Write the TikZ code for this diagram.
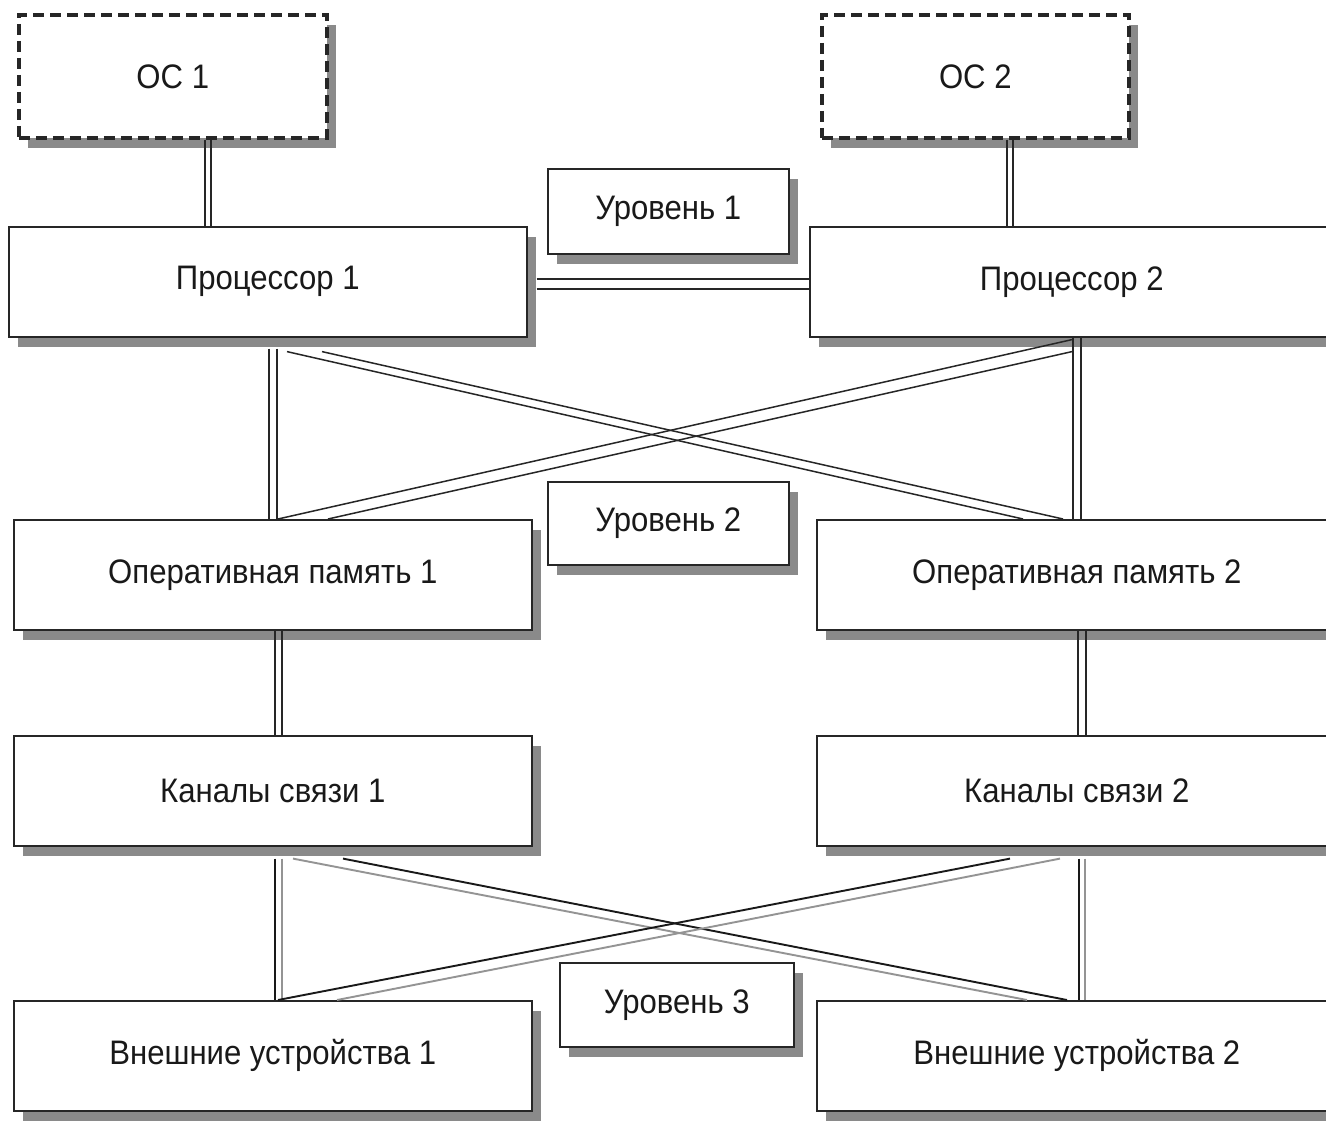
\documentclass[tikz,border=0pt]{standalone}
\usepackage{fontspec}
\setmainfont[FakeStretch=0.915]{Liberation Sans}
\usetikzlibrary{shadows,calc}

% two parallel strokes, shifted sideways by +-#3
\newcommand\wirepair[5]{%
  \draw[#1, transform canvas={xshift=-#3}] (#4) -- (#5);
  \draw[#2, transform canvas={xshift=#3}] (#4) -- (#5);}

\begin{document}
\begin{tikzpicture}[x=1pt,y=-1pt,
  shadowed/.style={drop shadow={shadow xshift=9pt,shadow yshift=-10pt,fill=black!46,opacity=1}},
  box/.style={shadowed,draw=black!85,line width=1.6pt,fill=white,anchor=north west,
    inner sep=0pt,text=black!90,font=\fontsize{34}{38}\selectfont},
  osbox/.style={box,line width=3.6pt,dash pattern=on 11pt off 6pt},
  wdark/.style={draw=black!85,line width=1.5pt},
  wblack/.style={draw=black!90,line width=1.9pt},
  wgray/.style={draw=black!42,line width=1.9pt}]

\useasboundingbox (0,0) rectangle (1326,1120);
\clip (0,0) rectangle (1326,1120);
\fill[white] (0,0) rectangle (1326,1120);

% operating systems
\node[osbox,minimum width=308pt,minimum height=123pt] (oc1) at (17,13) {ОС 1};
\node[osbox,minimum width=307pt,minimum height=123pt] (oc2) at (820,13) {ОС 2};

% level labels
\node[box,minimum width=241pt,minimum height=85pt] (l1) at (547,168) {Уровень 1};
\node[box,minimum width=241pt,minimum height=83pt] (l2) at (547,481) {Уровень 2};
\node[box,minimum width=234pt,minimum height=84pt] (l3) at (559,962) {Уровень 3};

% units, left column
\node[box,minimum width=518pt,minimum height=110pt] (p1) at (8,226) {Процессор 1};
\node[box,minimum width=518pt,minimum height=110pt] (m1) at (13,519) {Оперативная память 1};
\node[box,minimum width=518pt,minimum height=110pt] (k1) at (13,735) {Каналы связи 1};
\node[box,minimum width=518pt,minimum height=110pt] (v1) at (13,1000) {Внешние устройства 1};

% units, right column
\node[box,minimum width=524pt,minimum height=110pt] (p2) at (809,226) {Процессор 2};
\node[box,minimum width=520pt,minimum height=110pt] (m2) at (816,519) {Оперативная память 2};
\node[box,minimum width=520pt,minimum height=110pt] (k2) at (816,735) {Каналы связи 2};
\node[box,minimum width=520pt,minimum height=110pt] (v2) at (816,1000) {Внешние устройства 2};

% level 1: OS to processor, processor to processor
\path ($(oc1.south west)+(191,0)$) coordinate (a1);
\wirepair{wdark}{wdark}{2.9pt}{a1}{a1 |- p1.north}
\path ($(oc2.south west)+(190,0)$) coordinate (a2);
\wirepair{wdark}{wdark}{2.9pt}{a2}{a2 |- p2.north}
\path ($(p1.east)+(9,2)$) coordinate (h1);
\draw[wdark, transform canvas={yshift=5pt}] (h1) -- (h1 -| p2.west);
\draw[wdark, transform canvas={yshift=-5pt}] (h1) -- (h1 -| p2.west);

% level 2: processors to memories
\path ($(p1.south west)+(265,11)$) coordinate (b1);
\wirepair{wdark}{wdark}{4pt}{b1}{b1 |- m1.north}
\path ($(p2.south west)+(268,0)$) coordinate (b2);
\wirepair{wdark}{wdark}{4pt}{b2}{b2 |- m2.north}
\draw[wdark] ($(p1.south west)+(314,14)$) -- ($(m2.north west)+(247,0)$);
\draw[wdark] ($(p1.south west)+(279,14)$) -- ($(m2.north west)+(207,0)$);
\draw[wdark] ($(p2.south west)+(263,2)$) -- ($(m1.north west)+(265,0)$);
\draw[wdark] ($(p2.south west)+(263,14)$) -- ($(m1.north west)+(315,0)$);

% memories to channels
\path ($(m1.south west)+(265.5,0)$) coordinate (c1);
\wirepair{wdark}{wdark}{3.6pt}{c1}{c1 |- k1.north}
\path ($(m2.south west)+(266,0)$) coordinate (c2);
\wirepair{wdark}{wdark}{4pt}{c2}{c2 |- k2.north}

% level 3: channels to external devices
\path ($(k1.south west)+(265.5,12)$) coordinate (d1);
\wirepair{wblack}{wgray}{3.5pt}{d1}{d1 |- v1.north}
\path ($(k2.south west)+(266,12)$) coordinate (d2);
\wirepair{wblack}{wgray}{3.3pt}{d2}{d2 |- v2.north}
\draw[wblack] ($(k1.south west)+(330,12)$) -- ($(v2.north west)+(251,0)$);
\draw[wgray]  ($(k1.south west)+(280,12)$) -- ($(v2.north west)+(211,0)$);
\draw[wblack] ($(k2.south west)+(194,12)$) -- ($(v1.north west)+(265,0)$);
\draw[wgray]  ($(k2.south west)+(244,12)$) -- ($(v1.north west)+(324,0)$);
\end{tikzpicture}
\end{document}
